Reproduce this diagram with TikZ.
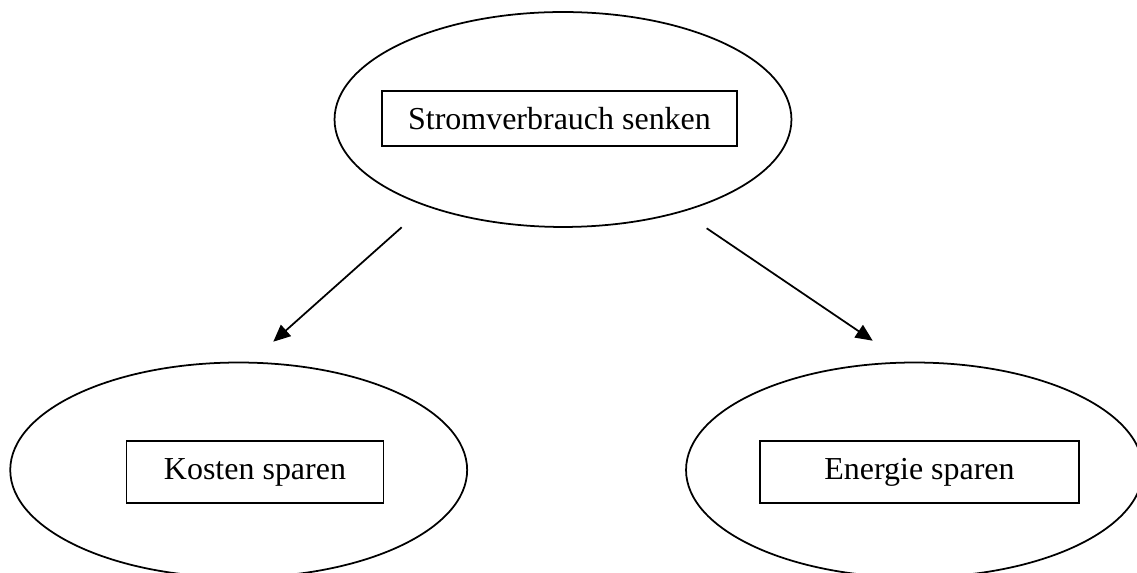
\documentclass[tikz,border=0pt]{standalone}
\usepackage{fontspec}
\setmainfont{Liberation Serif}
\usetikzlibrary{shapes.geometric,arrows.meta}

\begin{document}
\begin{tikzpicture}[
    x=0.02cm, y=-0.02cm,
    line width=1pt,
    goal/.style={ellipse, draw, minimum width=9.14cm, minimum height=4.3cm, inner sep=0},
    textbox/.style={rectangle, draw, inner sep=0, font=\fontsize{18.2}{22}\selectfont},
    arrow/.style={-{Triangle[length=0.34cm,width=0.3cm]}}
  ]
  \useasboundingbox (0,0) rectangle (1137,573);

  % Ellipses
  \node[goal] (goal-top) at (563,119.5) {};
  \node[goal] (goal-left) at (238.7,470) {};
  \node[goal] (goal-right) at (914.5,470) {};

  % Boxed texts
  \node[textbox, minimum width=7.1cm, minimum height=1.1cm] (box-top) at (559.5,118.5) {Stromverbrauch senken};
  \node[textbox, minimum width=5.14cm, minimum height=1.24cm] (box-left) at (255,472) {Kosten sparen};
  \node[textbox, minimum width=6.38cm, minimum height=1.24cm] (box-right) at (919.5,472) {Energie sparen};

  % Arrow ends
  \coordinate (left-from) at (401.7,227.3);
  \coordinate (left-to) at (273.3,341.7);
  \coordinate (right-from) at (706.7,228.3);
  \coordinate (right-to) at (872.7,340.7);

  \draw[arrow] (left-from) -- (left-to);
  \draw[arrow] (right-from) -- (right-to);
\end{tikzpicture}
\end{document}
